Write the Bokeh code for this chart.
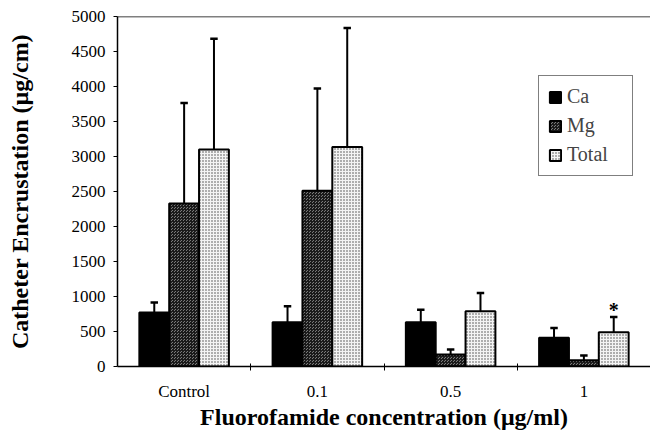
from bokeh.plotting import figure
from bokeh.models import (ColumnDataSource, FixedTicker, Span, Legend, LegendItem, Range1d)
from bokeh.core.properties import value
from bokeh.embed import file_html
from bokeh.resources import INLINE

categories = ["Control", "0.1", "0.5", "1"]
ca = [773, 631, 631, 409]
ca_sd = [143, 228, 181, 142]
mg = [2330, 2510, 171, 90]
mg_sd = [1435, 1460, 71, 67]
total = [3100, 3136, 788, 489]
total_sd = [1582, 1699, 262, 219]
y_ticks = [0, 500, 1000, 1500, 2000, 2500, 3000, 3500, 4000, 4500, 5000]
star_label = "*"
star_index = 3

SERIF = "Liberation Serif"

p = figure(width=650, height=432, output_backend="svg", toolbar_location=None,
           x_range=Range1d(0, 4), y_range=Range1d(0, 5000),
           min_border_left=117, min_border_right=0, min_border_top=16, min_border_bottom=0)
p.outline_line_color = None
p.grid.visible = False
p.background_fill_color = "white"

bw = 0.224
offs = [-bw, 0.0, bw]
styles = [
    dict(fill_color="black"),
    dict(fill_color="#7a7a7a", hatch_pattern="criss_cross", hatch_color="#1a1a1a", hatch_scale=3, hatch_weight=1),
    dict(fill_color="#f4f4f4", hatch_pattern="dot", hatch_color="#444444", hatch_scale=3, hatch_weight=1),
]
series = [("Ca", ca, ca_sd), ("Mg", mg, mg_sd), ("Total", total, total_sd)]

renderers = []
for (name, vals, sds), off, st in zip(series, offs, styles):
    xs = [i + 0.5 + off for i in range(len(categories))]
    src = ColumnDataSource(dict(x=xs, top=vals, up=[v + s for v, s in zip(vals, sds)],
                                cl=[x - 0.028 for x in xs], cr=[x + 0.028 for x in xs]))
    r = p.vbar(x="x", top="top", bottom=0, width=bw, source=src, line_color="black", line_width=2, **st)
    renderers.append((name, r))
    p.segment(x0="x", y0="top", x1="x", y1="up", source=src, line_color="black", line_width=2)
    p.segment(x0="cl", y0="up", x1="cr", y1="up", source=src, line_color="black", line_width=2.5)

# significance star
p.text(x=[star_index + 0.5 + bw], y=[total[star_index] + total_sd[star_index] + 95], text=[star_label],
       text_align="center", text_baseline="middle", text_font=value(SERIF),
       text_font_size="20px", text_font_style="bold", text_color="black")

# top border line
p.add_layout(Span(location=5000, dimension="width", line_color="black", line_width=1.5))

# x axis: labels at category centres, small ticks at category boundaries
xa = p.xaxis[0]
xa.ticker = FixedTicker(ticks=[i + 0.5 for i in range(len(categories))],
                        minor_ticks=[float(i) for i in range(1, len(categories))])
xa.major_label_overrides = {i + 0.5: c for i, c in enumerate(categories)}
xa.major_tick_line_color = None
xa.minor_tick_line_color = "black"
xa.minor_tick_in = 3
xa.minor_tick_out = 4
xa.axis_line_color = "black"
xa.axis_line_width = 1.5
xa.major_label_standoff = 9
xa.major_label_text_font = SERIF
xa.major_label_text_font_size = "17px"
xa.major_label_text_color = "black"
xa.axis_label = "Fluorofamide concentration (\u03bcg/ml)"
xa.axis_label_text_font = SERIF
xa.axis_label_text_font_size = "24px"
xa.axis_label_text_font_style = "bold"
xa.axis_label_text_color = "black"
xa.axis_label_standoff = 0

ya = p.yaxis[0]
ya.ticker = FixedTicker(ticks=y_ticks)
ya.minor_tick_line_color = None
ya.major_tick_in = 0
ya.major_tick_out = 4
ya.axis_line_color = "black"
ya.axis_line_width = 1.5
ya.major_label_text_font = SERIF
ya.major_label_text_font_size = "17px"
ya.major_label_text_color = "black"
ya.major_label_standoff = 8
ya.axis_label = "Catheter Encrustation (\u00b5g/cm)"
ya.axis_label_text_font = SERIF
ya.axis_label_text_font_size = "24px"
ya.axis_label_text_font_style = "bold"
ya.axis_label_text_color = "black"
ya.axis_label_standoff = 36

legend = Legend(items=[LegendItem(label=n, renderers=[r]) for n, r in renderers],
                location=(421, 190))
legend.border_line_color = "black"
legend.border_line_width = 1.5
legend.label_text_font = SERIF
legend.label_text_font_size = "20px"
legend.glyph_width = 14
legend.glyph_height = 14
legend.spacing = 6
legend.label_height = 20
legend.label_width = 56
legend.padding = 9
legend.margin = 0
legend.label_standoff = 5
p.add_layout(legend, "center")

open("out.html", "w").write(file_html(p, INLINE))
